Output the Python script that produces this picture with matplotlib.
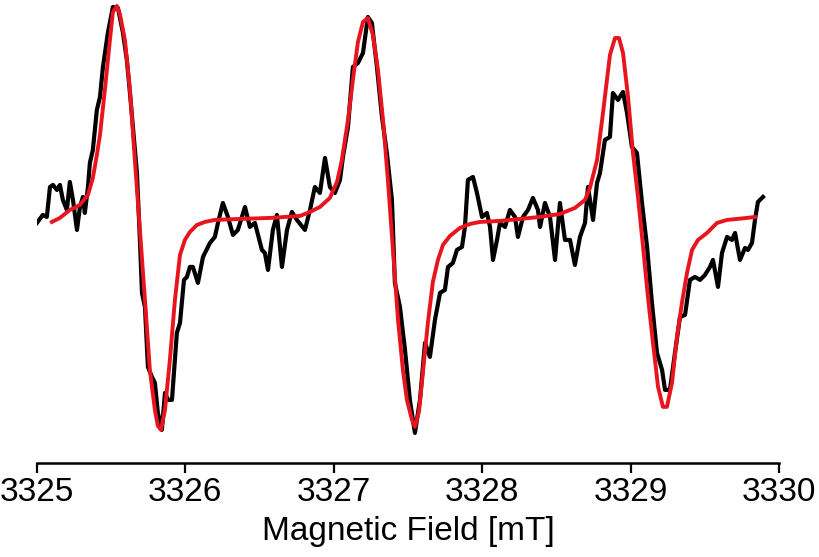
import numpy as np
import matplotlib.pyplot as plt

plt.rcParams['font.family'] = ['Liberation Sans', 'DejaVu Sans']

# field offsets from 3325 mT, and signal (arbitrary units)
exp_field = [0.000, 0.040, 0.067, 0.088, 0.108, 0.135, 0.155, 0.175, 0.202, 0.222,
             0.243, 0.270, 0.290, 0.310, 0.323, 0.344, 0.357, 0.377, 0.404, 0.425,
             0.445, 0.478, 0.512, 0.546, 0.580, 0.606, 0.627, 0.647, 0.674, 0.694,
             0.708, 0.728, 0.748, 0.775, 0.795, 0.815, 0.842, 0.863, 0.883, 0.910,
             0.943, 0.964, 0.991, 1.011, 1.031, 1.051, 1.085, 1.119, 1.166, 1.199,
             1.220, 1.253, 1.287, 1.321, 1.354, 1.402, 1.435, 1.469, 1.516, 1.536,
             1.557, 1.590, 1.617, 1.651, 1.685, 1.718, 1.752, 1.806, 1.840, 1.873,
             1.907, 1.941, 1.974, 2.008, 2.042, 2.062, 2.096, 2.129, 2.163, 2.197,
             2.230, 2.257, 2.291, 2.325, 2.358, 2.392, 2.412, 2.446, 2.480, 2.513,
             2.547, 2.581, 2.615, 2.648, 2.682, 2.716, 2.749, 2.770, 2.803, 2.830,
             2.864, 2.884, 2.904, 2.938, 2.965, 2.999, 3.032, 3.053, 3.073, 3.100,
             3.120, 3.154, 3.187, 3.221, 3.241, 3.275, 3.309, 3.342, 3.376, 3.390,
             3.423, 3.457, 3.491, 3.524, 3.558, 3.592, 3.625, 3.659, 3.693, 3.713,
             3.747, 3.774, 3.794, 3.827, 3.861, 3.881, 3.915, 3.949, 3.976, 4.009,
             4.043, 4.077, 4.111, 4.144, 4.178, 4.212, 4.232, 4.265, 4.299, 4.333,
             4.367, 4.400, 4.434, 4.468, 4.501, 4.535, 4.555, 4.589, 4.616, 4.650,
             4.683, 4.704, 4.737, 4.771, 4.791, 4.818, 4.838, 4.858, 4.892]
exp_signal = [-3, 5, 3, 33, 35, 30, 35, 20, 10, 38,
              20, -10, 13, 23, 7, 33, 57, 70, 110, 123,
              153, 187, 213, 212, 187, 160, 127, 93, 47, -20,
              -73, -87, -147, -157, -163, -193, -210, -173, -180, -180,
              -113, -103, -60, -57, -47, -47, -63, -37, -23, -17,
              -3, 17, 3, -15, -10, 13, -7, -3, -30, -33,
              -50, -10, 5, -47, -10, 8, 0, -10, 10, 33,
              27, 62, 33, 27, 40, 63, 93, 153, 157, 167,
              203, 197, 153, 103, 67, 20, -63, -87, -130, -180,
              -213, -180, -123, -137, -100, -73, -70, -47, -43, -30,
              -27, -7, 40, 43, 27, 3, 7, -7, -40, -20,
              -3, -7, 10, 3, -17, 3, 10, 22, 10, -7,
              17, 3, -40, 17, -20, -20, -45, -17, -3, 33,
              0, 37, 47, 80, 83, 127, 120, 128, 107, 73,
              67, 17, -27, -83, -133, -150, -170, -170, -133, -97,
              -95, -60, -57, -60, -55, -47, -40, -67, -33, -17,
              -20, -13, -40, -28, -30, -23, 0, 18, 23]

sim_field = [0.101, 0.155, 0.222, 0.290, 0.344, 0.377, 0.404, 0.425, 0.458, 0.492,
             0.512, 0.539, 0.559, 0.593, 0.627, 0.660, 0.694, 0.728, 0.761, 0.795,
             0.815, 0.836, 0.863, 0.896, 0.930, 0.964, 0.997, 1.031, 1.078, 1.132,
             1.199, 1.368, 1.570, 1.772, 1.840, 1.907, 1.974, 2.022, 2.055, 2.096,
             2.129, 2.163, 2.197, 2.230, 2.264, 2.298, 2.332, 2.365, 2.399, 2.433,
             2.466, 2.493, 2.527, 2.547, 2.574, 2.601, 2.635, 2.668, 2.702, 2.736,
             2.783, 2.850, 2.918, 2.985, 3.120, 3.255, 3.389, 3.524, 3.625, 3.693,
             3.726, 3.774, 3.814, 3.861, 3.895, 3.922, 3.949, 3.983, 4.016, 4.050,
             4.084, 4.117, 4.151, 4.185, 4.218, 4.245, 4.279, 4.313, 4.346, 4.380,
             4.414, 4.454, 4.515, 4.582, 4.650, 4.717, 4.784, 4.838]
sim_signal = [-2, 2, 10, 15, 25, 42, 65, 85, 130, 180,
              208, 214, 206, 180, 130, 60, -10, -80, -150, -190,
              -206, -210, -190, -140, -80, -35, -20, -12, -5, -2,
              0, 1, 2, 4, 8, 13, 22, 38, 60, 100,
              140, 178, 198, 202, 185, 150, 100, 40, -30, -100,
              -150, -180, -200, -207, -192, -152, -102, -62, -40, -25,
              -16, -8, -4, -2, -1, 1, 3, 6, 12, 20,
              32, 60, 107, 165, 182, 182, 167, 123, 67, 23,
              -27, -77, -123, -167, -187, -187, -163, -117, -83, -53,
              -30, -20, -13, -3, 0, 1, 2, 3]

fig, ax = plt.subplots(figsize=(8.2, 5.57), dpi=100)
fig.subplots_adjust(left=0.045, right=0.950, bottom=0.169, top=1.0)

ax.plot(3325 + np.array(exp_field), exp_signal, color='black', lw=3.0)
ax.plot(3325 + np.array(sim_field), sim_signal, color='#e8141e', lw=2.8)

ax.set_xlim(3325, 3330)
ax.set_ylim(-243, 220)
ax.set_xticks([3325, 3326, 3327, 3328, 3329, 3330])
ax.set_yticks([])
for s in ['left', 'right', 'top']:
    ax.spines[s].set_visible(False)
ax.spines['bottom'].set_linewidth(1.8)
ax.tick_params(axis='x', direction='out', length=7, width=1.6, labelsize=24, pad=3)
ax.set_xlabel('Magnetic Field [mT]', fontsize=24, labelpad=6)

fig.savefig('out.png', dpi=100)
